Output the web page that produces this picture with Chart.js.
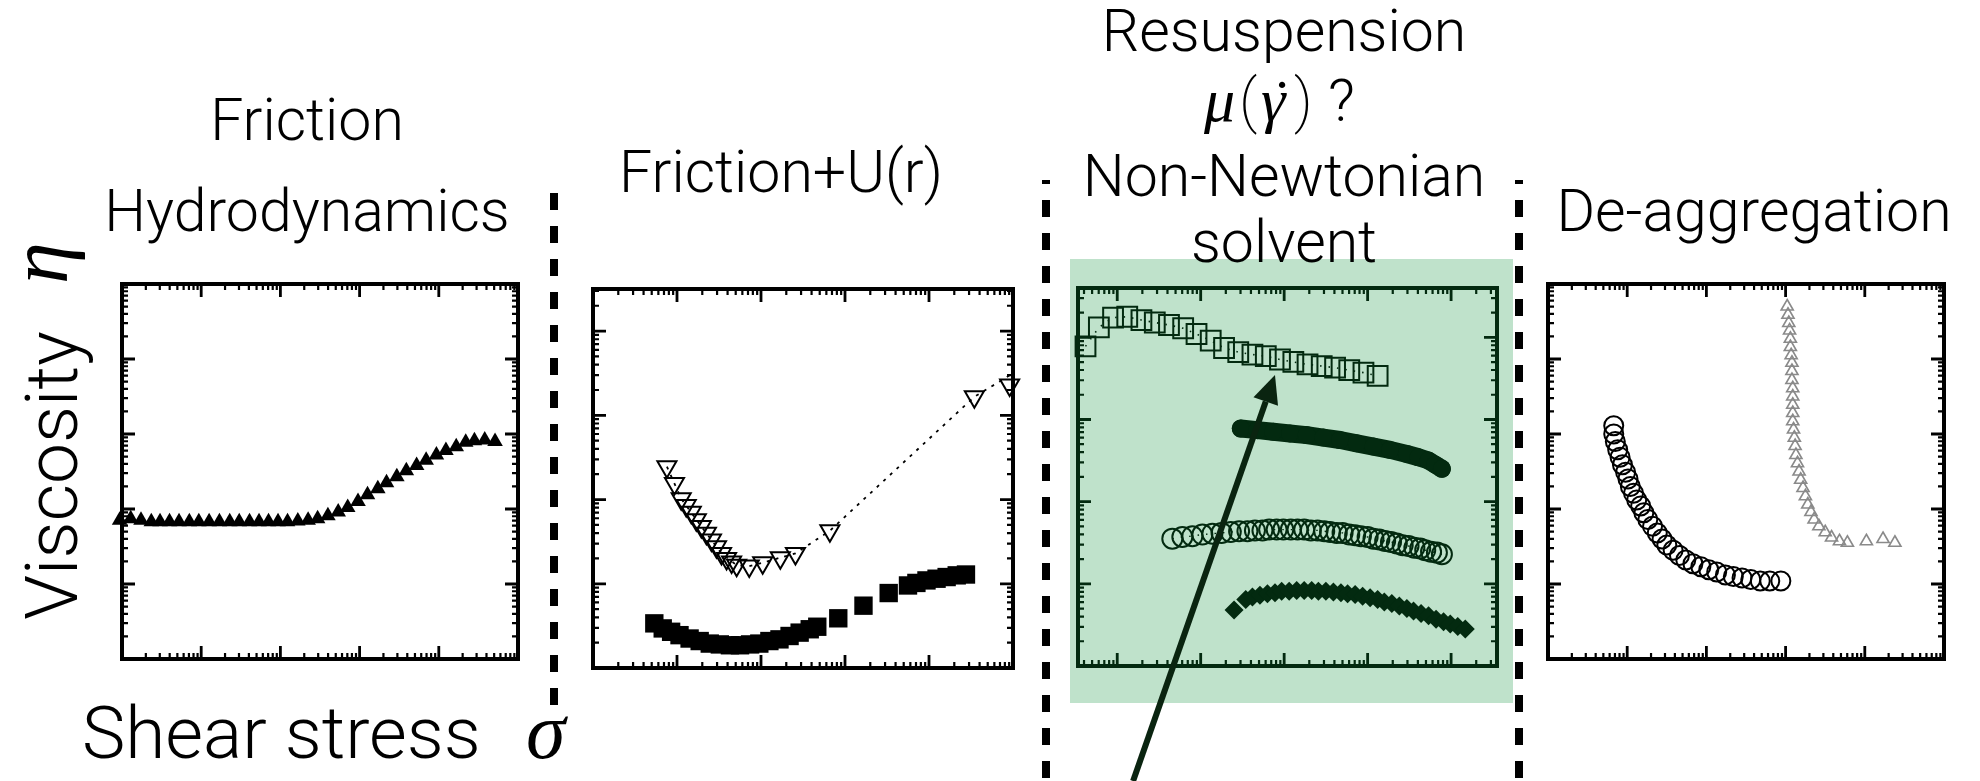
<!DOCTYPE html>
<html>
<head>
<meta charset="utf-8">
<script src="https://cdn.jsdelivr.net/npm/chart.js@4.4.1/dist/chart.umd.min.js"></script>
<style>
  html, body { margin: 0; padding: 0; background: #fff; overflow: hidden; }
  #stage { position: relative; width: 1980px; height: 781px; }
  #stage svg, #stage canvas { position: absolute; left: 0; top: 0; }
  .t { font-family: "Roboto", "Liberation Sans", sans-serif; font-weight: 300; fill: #000; }
  .m { font-family: "Liberation Serif", "DejaVu Serif", serif; font-style: italic; font-weight: 400; }
  .r { font-family: "Liberation Serif", "DejaVu Serif", serif; font-weight: 400; }
</style>
</head>
<body>
<div id="stage">
  <svg width="1980" height="781">
    <rect x="1070" y="259" width="443" height="444" fill="#bfe2cb"/>
  </svg>
  <canvas id="c1" width="1980" height="781"></canvas>
  <canvas id="c2" width="1980" height="781"></canvas>
  <canvas id="c3" width="1980" height="781"></canvas>
  <canvas id="c4" width="1980" height="781"></canvas>
  <svg width="1980" height="781">
    <g stroke="#000" stroke-width="8" stroke-dasharray="17 16">
      <line x1="554" y1="193" x2="554" y2="708"/>
      <line x1="1046" y1="180" x2="1046" y2="781" stroke-dashoffset="13"/>
      <line x1="1519" y1="180" x2="1519" y2="781" stroke-dashoffset="13"/>
    </g>
    <g class="t" font-size="59" text-anchor="middle">
      <text x="307" y="140">Friction</text>
      <text x="307" y="231">Hydrodynamics</text>
      <text x="781" y="192">Friction+U(r)</text>
      <text x="1284" y="51">Resuspension</text>
      <text x="1284" y="196">Non-Newtonian</text>
      <text x="1284" y="262">solvent</text>
      <text x="1754" y="231">De-aggregation</text>
    </g>
    <g class="t" font-size="60">
      <text x="1204" y="121" class="m" font-size="62">μ</text>
      <text x="1239" y="121" font-weight="200">(</text>
      <text x="1261" y="121" class="m" font-size="62">γ</text>
      <text x="1282" y="121" class="r" text-anchor="middle">˙</text>
      <text x="1294" y="121" font-weight="200">)</text>
      <text x="1328" y="121" font-size="59">?</text>
    </g>
    <g class="t" font-size="73">
      <text x="77" y="620" transform="rotate(-90 77 620)">Viscosity</text>
      <text x="413" y="610" transform="rotate(-90 77 620)" class="m" font-size="84">η</text>
      <text x="82" y="758">Shear stress</text>
      <text x="526" y="758" class="m" font-size="80">σ</text>
    </g>
  </svg>
</div>
<script>
// all values are in decades: x = log10(shear stress), y = log10(viscosity)

// panel 1: friction / hydrodynamics
const p1TriX = [-0.03, 0.11, 0.24, 0.37, 0.48, 0.60, 0.72, 0.85, 0.97, 1.10, 1.23, 1.36, 1.48,
  1.61, 1.73, 1.85, 1.97, 2.09, 2.22, 2.35, 2.47, 2.60, 2.73, 2.85, 2.98, 3.10, 3.23, 3.34,
  3.47, 3.59, 3.72, 3.84, 3.97, 4.09, 4.22, 4.34, 4.45, 4.58, 4.71];
const p1TriY = [1.85, 1.87, 1.85, 1.83, 1.83, 1.83, 1.83, 1.83, 1.83, 1.83, 1.83, 1.83, 1.83,
  1.83, 1.83, 1.83, 1.83, 1.83, 1.84, 1.85, 1.87, 1.91, 1.96, 2.02, 2.10, 2.19, 2.27, 2.35,
  2.43, 2.51, 2.58, 2.65, 2.72, 2.78, 2.83, 2.89, 2.91, 2.92, 2.90];

// panel 2: friction + U(r)
const p2TriX = [0.88, 0.97, 1.05, 1.11, 1.17, 1.23, 1.29, 1.35, 1.41, 1.47, 1.53, 1.59, 1.65,
  1.71, 1.86, 2.02, 2.23, 2.41, 2.82, 4.54, 4.96];
const p2TriY = [2.39, 2.19, 2.01, 1.93, 1.85, 1.76, 1.68, 1.60, 1.52, 1.44, 1.36, 1.30, 1.26,
  1.22, 1.21, 1.25, 1.31, 1.36, 1.63, 3.22, 3.36];
const p2LineX = [0.88, 1.05, 1.29, 1.53, 1.71, 1.86, 2.02, 2.23, 2.41, 2.82, 4.54, 5.2];
const p2LineY = [2.39, 2.01, 1.68, 1.36, 1.22, 1.21, 1.25, 1.31, 1.36, 1.63, 3.22, 3.62];
const p2SqX = [0.73, 0.83, 0.93, 1.03, 1.15, 1.27, 1.39, 1.51, 1.63, 1.75, 1.87, 1.98, 2.10,
  2.22, 2.34, 2.46, 2.58, 2.67, 2.92, 3.22, 3.52, 3.75, 3.85, 3.97, 4.09, 4.21, 4.33, 4.44];
const p2SqY = [0.53, 0.47, 0.43, 0.39, 0.35, 0.32, 0.29, 0.28, 0.27, 0.27, 0.28, 0.29, 0.32,
  0.34, 0.38, 0.42, 0.46, 0.49, 0.59, 0.74, 0.89, 0.98, 1.01, 1.04, 1.06, 1.08, 1.10, 1.11];

// panel 3: resuspension, non-Newtonian solvent
const p3SqX = [-0.38, -0.22, -0.05, 0.12, 0.29, 0.45, 0.62, 0.79, 0.95, 1.12, 1.28, 1.45, 1.62,
  1.78, 1.95, 2.11, 2.28, 2.45, 2.61, 2.78, 2.95, 3.12];
const p3SqY = [3.89, 4.12, 4.24, 4.25, 4.21, 4.18, 4.15, 4.11, 4.04, 3.96, 3.87, 3.82, 3.79,
  3.77, 3.73, 3.70, 3.67, 3.65, 3.63, 3.60, 3.57, 3.53];
const p3DotX = [1.48, 1.68, 1.87, 2.07, 2.27, 2.47, 2.67, 2.87, 3.07, 3.27, 3.47, 3.61, 3.73, 3.81, 3.89];
const p3DotY = [2.89, 2.87, 2.85, 2.83, 2.81, 2.78, 2.75, 2.71, 2.67, 2.63, 2.58, 2.54, 2.50, 2.45, 2.40];
const p3CirX = [0.66, 0.78, 0.90, 1.02, 1.14, 1.25, 1.36, 1.46, 1.56, 1.65, 1.74, 1.82, 1.91,
  1.99, 2.08, 2.16, 2.24, 2.32, 2.40, 2.48, 2.55, 2.63, 2.70, 2.78, 2.85, 2.92, 3.00, 3.07,
  3.14, 3.21, 3.28, 3.35, 3.42, 3.49, 3.56, 3.63, 3.69, 3.76, 3.83, 3.89];
const p3CirY = [1.55, 1.57, 1.58, 1.60, 1.61, 1.62, 1.63, 1.64, 1.64, 1.65, 1.65, 1.66, 1.66,
  1.66, 1.66, 1.66, 1.66, 1.65, 1.65, 1.64, 1.63, 1.62, 1.62, 1.60, 1.59, 1.58, 1.57, 1.55,
  1.54, 1.52, 1.51, 1.49, 1.47, 1.46, 1.44, 1.43, 1.41, 1.39, 1.38, 1.36];
const p3DiaX = [1.40, 1.54, 1.62, 1.71, 1.80, 1.89, 1.97, 2.06, 2.15, 2.24, 2.33, 2.41, 2.50,
  2.59, 2.68, 2.76, 2.85, 2.94, 3.03, 3.12, 3.20, 3.29, 3.38, 3.47, 3.55, 3.64, 3.73, 3.82,
  3.91, 3.99, 4.08, 4.17];
const p3DiaY = [0.68, 0.81, 0.84, 0.86, 0.88, 0.89, 0.91, 0.91, 0.92, 0.92, 0.92, 0.91, 0.91,
  0.90, 0.89, 0.88, 0.87, 0.85, 0.83, 0.81, 0.78, 0.76, 0.73, 0.70, 0.67, 0.64, 0.61, 0.57,
  0.54, 0.51, 0.48, 0.45];
const p3Arrow = { from: [0.19, -1.40], to: [1.89, 3.54] };

// panel 4: de-aggregation
const p4CirX = [0.83, 0.83, 0.85, 0.88, 0.91, 0.94, 0.98, 1.01, 1.04, 1.08, 1.12, 1.17, 1.21,
  1.26, 1.32, 1.38, 1.44, 1.50, 1.58, 1.66, 1.74, 1.83, 1.93, 2.03, 2.13, 2.24, 2.34, 2.45,
  2.56, 2.68, 2.80, 2.94];
const p4CirY = [3.11, 3.00, 2.90, 2.79, 2.69, 2.59, 2.49, 2.40, 2.30, 2.21, 2.12, 2.04, 1.95,
  1.86, 1.77, 1.68, 1.60, 1.52, 1.45, 1.38, 1.32, 1.27, 1.23, 1.19, 1.16, 1.12, 1.10, 1.08,
  1.06, 1.04, 1.04, 1.04];
const p4TriX = [3.02, 3.03, 3.04, 3.05, 3.06, 3.06, 3.07, 3.08, 3.08, 3.08, 3.09, 3.09, 3.09,
  3.09, 3.09, 3.10, 3.11, 3.12, 3.13, 3.15, 3.17, 3.19, 3.22, 3.25, 3.28, 3.32, 3.36, 3.42,
  3.50, 3.58, 3.68, 3.78, 4.02, 4.23, 4.38];
const p4TriY = [4.70, 4.59, 4.48, 4.38, 4.27, 4.16, 4.05, 3.95, 3.84, 3.72, 3.61, 3.50, 3.39,
  3.28, 3.17, 3.06, 2.95, 2.84, 2.72, 2.61, 2.50, 2.39, 2.28, 2.17, 2.06, 1.96, 1.86, 1.77,
  1.69, 1.62, 1.57, 1.55, 1.57, 1.60, 1.55];

const pts = (xs, ys) => xs.map((x, i) => ({ x: x, y: ys[i] }));

// frame with inward log ticks (major per decade, minor at 2..9)
const framePlugin = {
  id: 'frame',
  beforeDatasetsDraw: function (chart, args, opts) {
    const ctx = chart.ctx, a = chart.chartArea;
    const sx = chart.scales.x, sy = chart.scales.y;
    const marks = function (min, max) {
      const out = [];
      for (let d = Math.floor(min) - 1; d <= Math.ceil(max); d++) {
        for (let m = 1; m <= 9; m++) {
          const v = d + Math.log10(m);
          if (v > min + 0.01 && v < max - 0.01) out.push({ v: v, major: m === 1 });
        }
      }
      return out;
    };
    ctx.save();
    ctx.strokeStyle = opts.color;
    marks(sx.min, sx.max).forEach(function (t) {
      const px = sx.getPixelForValue(t.v), len = t.major ? 13 : 6;
      ctx.lineWidth = t.major ? 2.8 : 2.2;
      ctx.beginPath();
      ctx.moveTo(px, a.bottom); ctx.lineTo(px, a.bottom - len);
      ctx.moveTo(px, a.top); ctx.lineTo(px, a.top + len);
      ctx.stroke();
    });
    marks(sy.min, sy.max).forEach(function (t) {
      const py = sy.getPixelForValue(t.v), len = t.major ? 13 : 6;
      ctx.lineWidth = t.major ? 2.8 : 2.2;
      ctx.beginPath();
      ctx.moveTo(a.left, py); ctx.lineTo(a.left + len, py);
      ctx.moveTo(a.right, py); ctx.lineTo(a.right - len, py);
      ctx.stroke();
    });
    ctx.lineWidth = 4;
    ctx.strokeRect(a.left, a.top, a.right - a.left, a.bottom - a.top);
    ctx.restore();
  }
};

const arrowPlugin = {
  id: 'arrow',
  afterDatasetsDraw: function (chart, args, opts) {
    if (!opts.from) return;
    const ctx = chart.ctx, sx = chart.scales.x, sy = chart.scales.y;
    const x0 = sx.getPixelForValue(opts.from[0]), y0 = sy.getPixelForValue(opts.from[1]);
    const x1 = sx.getPixelForValue(opts.to[0]), y1 = sy.getPixelForValue(opts.to[1]);
    const ang = Math.atan2(y1 - y0, x1 - x0), head = 28, half = 13;
    const bx = x1 - Math.cos(ang) * head, by = y1 - Math.sin(ang) * head;
    ctx.save();
    ctx.strokeStyle = opts.color; ctx.fillStyle = opts.color;
    ctx.lineWidth = 6;
    ctx.beginPath(); ctx.moveTo(x0, y0); ctx.lineTo(bx, by); ctx.stroke();
    ctx.beginPath();
    ctx.moveTo(x1, y1);
    ctx.lineTo(bx + Math.sin(ang) * half, by - Math.cos(ang) * half);
    ctx.lineTo(bx - Math.sin(ang) * half, by + Math.cos(ang) * half);
    ctx.closePath(); ctx.fill();
    ctx.restore();
  }
};

function options(box, xr, yr, color, arrow) {
  return {
    responsive: false,
    animation: false,
    events: [],
    layout: { padding: { left: box[0], top: box[1], right: 1980 - box[2], bottom: 781 - box[3] } },
    plugins: {
      legend: { display: false },
      tooltip: { enabled: false },
      frame: { color: color },
      arrow: arrow || {}
    },
    scales: {
      x: { type: 'linear', display: false, min: xr[0], max: xr[1] },
      y: { type: 'linear', display: false, min: yr[0], max: yr[1] }
    }
  };
}

const black = '#000000';
const green = '#032a10';

new Chart(document.getElementById('c1'), {
  type: 'scatter',
  data: { datasets: [
    { data: pts(p1TriX, p1TriY), pointStyle: 'triangle', pointRadius: 9,
      backgroundColor: black, borderColor: black, borderWidth: 0, clip: false }
  ] },
  options: options([122, 284, 518, 659], [0, 5], [0, 5], black),
  plugins: [framePlugin]
});

new Chart(document.getElementById('c2'), {
  type: 'scatter',
  data: { datasets: [
    { data: pts(p2TriX, p2TriY), pointStyle: 'triangle', rotation: 180, pointRadius: 11,
      backgroundColor: 'rgba(0,0,0,0)', borderColor: black, borderWidth: 2, clip: false },
    { data: pts(p2LineX, p2LineY), showLine: true, pointRadius: 0, borderColor: black,
      borderWidth: 1.8, borderDash: [3, 6], clip: 0 },
    { data: pts(p2SqX, p2SqY), pointStyle: 'rect', pointRadius: 13,
      backgroundColor: black, borderWidth: 0, clip: false }
  ] },
  options: options([593, 289, 1013, 668], [0, 5], [0, 4.5], black),
  plugins: [framePlugin]
});

new Chart(document.getElementById('c3'), {
  type: 'scatter',
  data: { datasets: [
    { data: pts(p3SqX, p3SqY), pointStyle: 'rect', pointRadius: 14, showLine: true,
      borderDash: [1.5, 7], borderWidth: 1.6, pointBorderWidth: 2,
      backgroundColor: 'rgba(0,0,0,0)', borderColor: green, clip: false },
    { data: pts(p3DotX, p3DotY), showLine: true, borderWidth: 18, borderCapStyle: 'round',
      borderJoinStyle: 'round', pointRadius: 9, pointBorderWidth: 0,
      backgroundColor: green, borderColor: green, clip: false },
    { data: pts(p3CirX, p3CirY), pointStyle: 'circle', pointRadius: 10, showLine: true,
      borderDash: [1.5, 7], borderWidth: 1.4, pointBorderWidth: 2,
      backgroundColor: 'rgba(0,0,0,0)', borderColor: green, clip: false },
    { data: pts(p3DiaX, p3DiaY), pointStyle: 'rectRot', pointRadius: 9.5,
      backgroundColor: green, borderWidth: 0, clip: false }
  ] },
  options: options([1078, 288, 1497, 666], [-0.47, 4.55], [0, 4.6], green,
    { from: p3Arrow.from, to: p3Arrow.to, color: '#0a2410' }),
  plugins: [framePlugin, arrowPlugin]
});

new Chart(document.getElementById('c4'), {
  type: 'scatter',
  data: { datasets: [
    { data: pts(p4CirX, p4CirY), pointStyle: 'circle', pointRadius: 9.5,
      backgroundColor: 'rgba(0,0,0,0)', borderColor: black, borderWidth: 2, clip: false },
    { data: pts(p4TriX, p4TriY), pointStyle: 'triangle', pointRadius: 7,
      backgroundColor: 'rgba(0,0,0,0)', borderColor: '#8a8a8a', borderWidth: 1.6, clip: false }
  ] },
  options: options([1548, 284, 1944, 659], [0, 5], [0, 5], black),
  plugins: [framePlugin]
});
</script>
</body>
</html>
